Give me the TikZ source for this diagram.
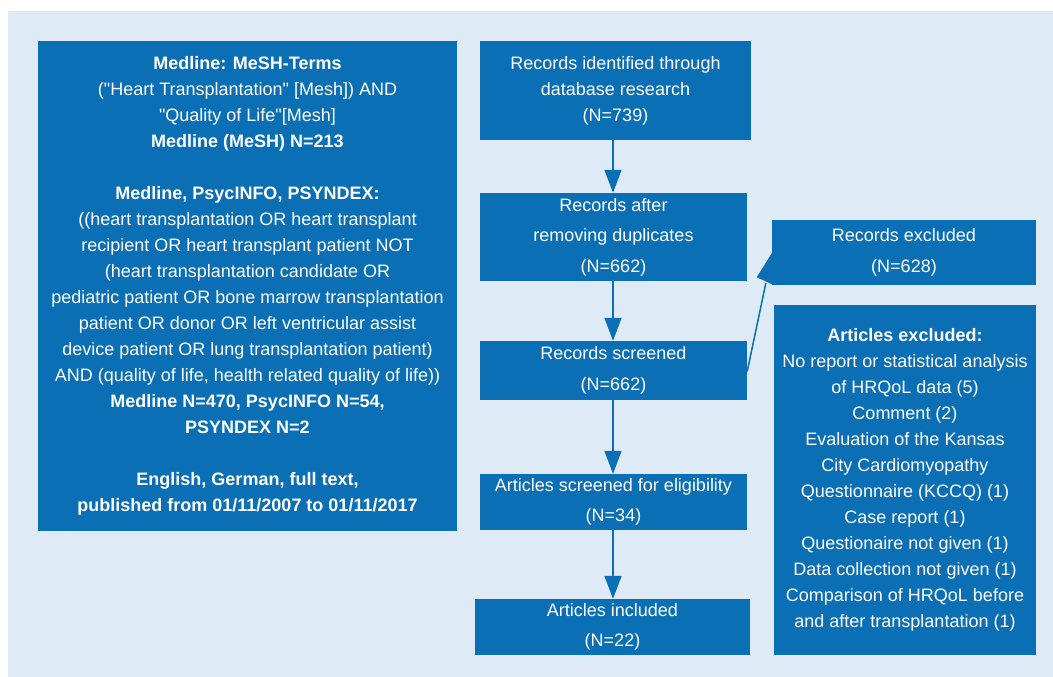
\documentclass[tikz,border=0pt]{standalone}
\usepackage{fontspec}
\setmainfont{Liberation Sans}
\usetikzlibrary{arrows.meta,calc}
\definecolor{boxblue}{HTML}{0B6FB5}
\definecolor{bgblue}{HTML}{DEEBF7}
\newcommand{\dq}{\textquotedbl}
\begin{document}
\begin{tikzpicture}[x=1pt,y=-1pt,
  box/.style={fill=boxblue,text=white,inner sep=0pt,align=center,anchor=center},
  tight/.style={font=\fontsize{18}{26}\selectfont},
  loose/.style={font=\fontsize{18}{30.5}\selectfont},
  flow/.style={draw=boxblue,line width=1.5pt,-{Triangle[length=23pt,width=17pt]}}]
\useasboundingbox (0,0) rectangle (1053,677);
\fill[white] (0,0) rectangle (1053,677);
\fill[bgblue] (8,11) rectangle (1053,677);
\node[box,tight,minimum width=419pt,minimum height=490pt] (L) at (247.5,286) {%
\textbf{Medline: MeSH-Terms}\\
(\dq Heart Transplantation\dq{} [Mesh]) AND\\
\dq Quality of Life\dq[Mesh]\\
\textbf{Medline (MeSH) N=213}\\
\mbox{}\\
\textbf{Medline, PsycINFO, PSYNDEX:}\\
((heart transplantation OR heart transplant\\
recipient OR heart transplant patient NOT\\
(heart transplantation candidate OR\\
pediatric patient OR bone marrow transplantation\\
patient OR donor OR left ventricular assist\\
device patient OR lung transplantation patient)\\
AND (quality of life, health related quality of life))\\
\textbf{Medline N=470, PsycINFO N=54,}\\
\textbf{PSYNDEX N=2}\\
\mbox{}\\
\textbf{English, German, full text,}\\
\textbf{published from 01/11/2007 to 01/11/2017}};
\node[box,tight,minimum width=271pt,minimum height=99pt] (b1) at (615.5,90.5) {Records identified through\\database research\\(N=739)};
\node[box,loose,minimum width=267pt,minimum height=88pt] (b2) at (613.5,237) {Records after\\removing duplicates\\(N=662)};
\node[box,loose,minimum width=267pt,minimum height=59pt] (b3) at (613.5,370.5) {Records screened\\(N=662)};
\node[box,loose,minimum width=267pt,minimum height=56pt] (b4) at (613.5,502) {Articles screened for eligibility\\(N=34)};
\node[box,loose,minimum width=275pt,minimum height=56pt] (b5) at (612.5,627) {Articles included\\(N=22)};
\node[box,loose,minimum width=264pt,minimum height=65pt] (rex) at (904,252.5) {Records excluded\\(N=628)};
\node[box,tight,minimum width=262pt,minimum height=350pt] (aex) at (905,480) {%
\textbf{Articles excluded:}\\
No report or statistical analysis\\
of HRQoL data (5)\\
Comment (2)\\
Evaluation of the Kansas\\
City Cardiomyopathy\\
Questionnaire (KCCQ) (1)\\
Case report (1)\\
Questionaire not given (1)\\
Data collection not given (1)\\
Comparison of HRQoL before\\
and after transplantation (1)};
\coordinate (ax) at (613,0);
\draw[flow] (b1.south -| ax) -- (b2.north -| ax);
\draw[flow] (b2.south -| ax) -- (b3.north -| ax);
\draw[flow] (b3.south -| ax) -- (b4.north -| ax);
\draw[flow] (b4.south -| ax) -- (b5.north -| ax);
\coordinate (s0) at ($(b3.east)+(0,1)$);
\coordinate (s1) at ($(rex.south west)+(-6,-2)$);
\draw[boxblue,line width=1.5pt] (s0) -- (s1);
\fill[boxblue] ($(rex.south west)+(-15,-8)$) -- ($(rex.south west)+(0,-32)$) -- ($(rex.south west)+(0,-1)$) -- cycle;
\end{tikzpicture}
\end{document}
